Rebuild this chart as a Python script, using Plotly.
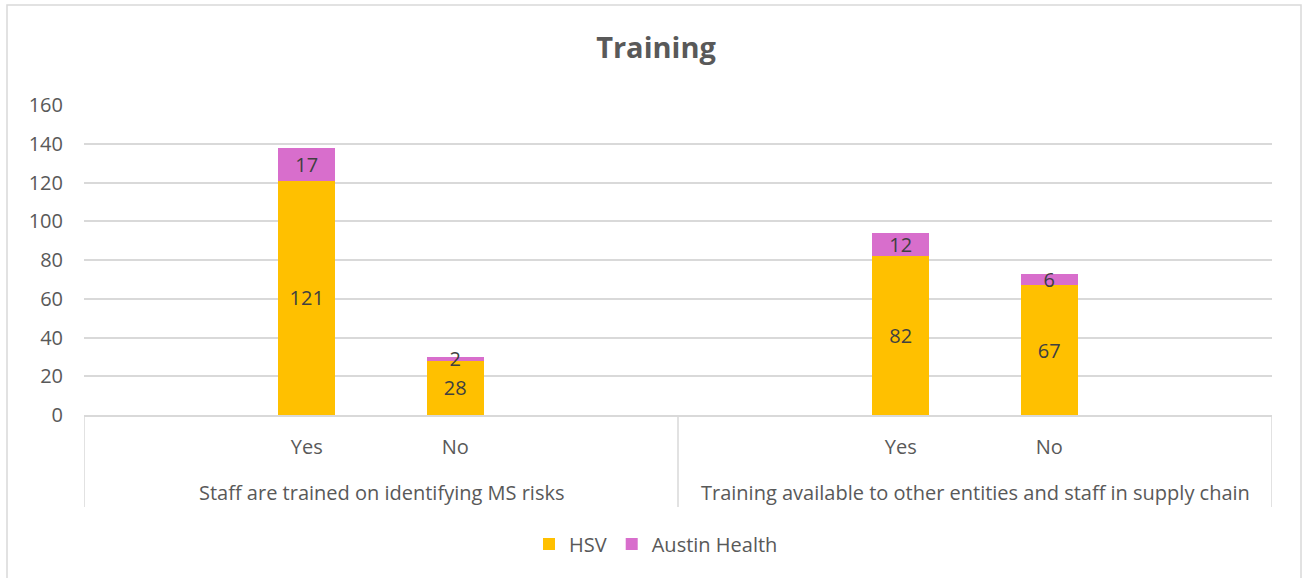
import plotly.graph_objects as go

# ---- data ----
groups = ["Staff are trained on identifying MS risks",
          "Training available to other entities and staff in supply chain"]
answers = ["Yes", "No", "Yes", "No"]
x_pos = [1, 2, 5, 6]          # slot positions (each group has 4 slots: blank, Yes, No, blank)
group_centers = [1.5, 5.5]
dividers = [-0.5, 3.5, 7.5]
hsv = [121, 28, 82, 67]
austin = [17, 2, 12, 6]
y_ticks = [0, 20, 40, 60, 80, 100, 120, 140, 160]

W, H = 1303, 578
PL, PR, PT, PB = 84, 1272, 105, 415   # plot area in screen pixels
L, T = PL, PT
R = W - PR
B = H - PB
plot_h = PB - PT
plot_w = PR - PL

FONT = "Open Sans"
GREY = "#595959"
LINE = "#d9d9d9"
FS = 20

def py(pixel_y):
    return (PB - pixel_y) / plot_h

def px(pixel_x):
    return (pixel_x - PL) / plot_w

fig = go.Figure()
fig.add_trace(go.Bar(
    x=x_pos, y=hsv, name="HSV", marker=dict(color="#FFC000", line=dict(width=0)),
    width=0.385, text=[str(v) for v in hsv], textposition="inside",
    insidetextanchor="middle", textangle=0,
    textfont=dict(family=FONT, size=FS, color="#404040"),
))
fig.add_trace(go.Bar(
    x=x_pos, y=austin, name="Austin Health", marker=dict(color="#D86ECC", line=dict(width=0)),
    width=0.385, text=[str(v) for v in austin], textposition="inside",
    insidetextanchor="middle", textangle=0,
    textfont=dict(family=FONT, size=FS, color="#404040"),
))

shapes = []
for d in dividers:
    shapes.append(dict(type="line", xref="x", yref="paper", x0=d, x1=d,
                       y0=0, y1=py(507), line=dict(color=LINE, width=1.5)))
# chart border
shapes.append(dict(type="rect", xref="paper", yref="paper",
                   x0=px(7), x1=px(1301), y0=py(5), y1=py(620),
                   line=dict(color=LINE, width=1.5), fillcolor="rgba(0,0,0,0)"))

annotations = []
for g, c in zip(groups, group_centers):
    annotations.append(dict(text=g, x=c, xref="x", y=py(493), yref="paper",
                            showarrow=False, xanchor="center", yanchor="middle",
                            font=dict(family=FONT, size=FS, color=GREY)))

fig.update_layout(
    width=W, height=H,
    margin=dict(l=L, r=R, t=T, b=B),
    barmode="stack",
    plot_bgcolor="white", paper_bgcolor="white",
    title=dict(text="<b>Training</b>", x=656 / W, xanchor="center", y=1 - 48 / H,
               yanchor="middle", font=dict(family=FONT, size=29, color=GREY)),
    uniformtext=dict(minsize=FS, mode="show"),
    showlegend=True,
    legend=dict(orientation="h", x=px(656), xanchor="center", y=py(544), yanchor="middle",
                font=dict(family=FONT, size=FS, color=GREY), traceorder="normal"),
    shapes=shapes,
    annotations=annotations,
)
fig.update_xaxes(range=[-0.5, 7.5], tickvals=x_pos, ticktext=answers,
                 showgrid=False, zeroline=False, showline=True, linecolor=LINE, linewidth=1.5,
                 ticks="", ticklabelstandoff=13,
                 tickfont=dict(family=FONT, size=FS, color=GREY))
fig.update_yaxes(range=[0, 160], tickvals=y_ticks, showgrid=True, gridcolor=LINE, gridwidth=1.5,
                 zeroline=False, showline=False, ticks="", ticklabelstandoff=20,
                 tickfont=dict(family=FONT, size=FS, color=GREY))

# remove the default page margin so the figure fills the window exactly
fig.write_html("out.html", config={"displayModeBar": False},
               post_script="document.body.style.margin='0';")
